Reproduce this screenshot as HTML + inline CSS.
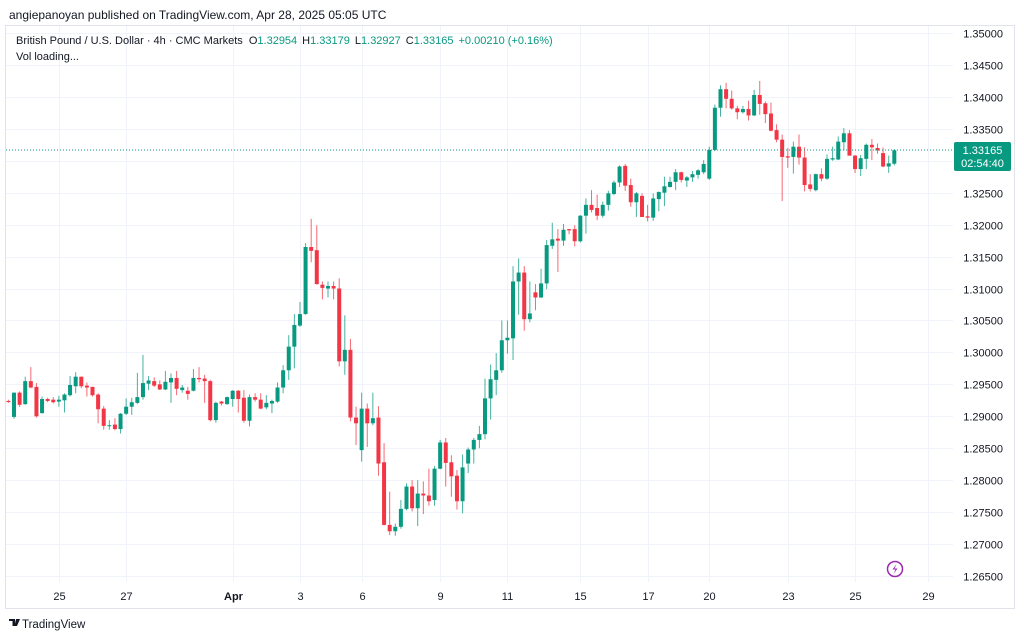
<!DOCTYPE html>
<html><head><meta charset="utf-8"><style>
html,body{margin:0;padding:0;background:#fff;}
svg{display:block;font-family:"Liberation Sans","DejaVu Sans",sans-serif;}
</style></head><body>
<svg id="chart" width="1024" height="641" viewBox="0 0 1024 641">
<rect x="0" y="0" width="1024" height="641" fill="#fff"/>
<text x="9" y="19" font-size="12" fill="#131722">angiepanoyan published on TradingView.com, Apr 28, 2025 05:05 UTC</text>
<rect x="5.5" y="25.5" width="1009" height="583" fill="none" stroke="#e0e3eb"/>
<g id="grid"></g>
<g id="candles"></g>
<line x1="6" x2="953" y1="150" y2="150" stroke="#089981" stroke-dasharray="1,2"/>
<g id="yaxis"></g>
<g id="xaxis"></g>
<rect x="954" y="142" width="57" height="29" rx="2" fill="#089981"/>
<text x="982.5" y="154" font-size="11" fill="#fff" text-anchor="middle">1.33165</text>
<text x="982.5" y="167" font-size="11" fill="#fff" text-anchor="middle">02:54:40</text>
<text x="16" y="44" font-size="11" fill="#131722">British Pound / U.S. Dollar · 4h · CMC Markets <tspan dx="3">O</tspan><tspan fill="#089981">1.32954</tspan><tspan dx="5">H</tspan><tspan fill="#089981">1.33179</tspan><tspan dx="5">L</tspan><tspan fill="#089981">1.32927</tspan><tspan dx="5">C</tspan><tspan fill="#089981">1.33165</tspan><tspan dx="5" fill="#089981">+0.00210 (+0.16%)</tspan></text>
<text x="16" y="60" font-size="11" fill="#131722">Vol loading...</text>
<g><circle cx="895" cy="569" r="7.5" fill="#fff" stroke="#9c27b0" stroke-width="1.5"/><path d="M896.5 564 L892.5 569.5 L895.5 569.5 L893.5 574 L897.5 568.5 L894.5 568.5 Z" fill="#9c27b0"/></g>
<g><path d="M9 619 h6 v7 h-2.5 v-5 h-3.5 Z M16 619 h4 l-3 7 h-2.5 Z" fill="#131722"/><text x="22" y="628" font-size="11.5" fill="#131722">TradingView</text></g>
</svg>
<script>
const opens=[1.2924,1.2899,1.2937,1.2919,1.2955,1.2946,1.2905,1.2927,1.2926,1.2923,1.2925,1.2933,1.2947,1.2962,1.2948,1.2946,1.2934,1.2912,1.2885,1.2887,1.2880,1.2904,1.2915,1.2921,1.2930,1.2951,1.2955,1.2950,1.2942,1.2953,1.2960,1.2941,1.2940,1.2940,1.2960,1.2959,1.2955,1.2894,1.2923,1.2919,1.2927,1.2940,1.2929,1.2893,1.2930,1.2926,1.2914,1.2920,1.2923,1.2945,
1.2972,1.3009,1.3042,1.3060,1.3165,1.3160,1.3106,1.3100,1.3104,1.3100,1.2986,1.3004,1.2898,1.2847,1.2912,1.2889,1.2898,1.2828,1.2730,1.2720,1.2727,1.2755,1.2790,1.2756,1.2779,1.2776,1.2769,1.2818,1.2859,1.2828,1.2807,1.2767,1.2826,1.2848,1.2863,1.2872,
1.2928,1.2957,1.2972,1.3019,1.3022,1.3111,1.3125,1.3052,1.3094,1.3086,1.3108,1.3167,1.3178,1.3175,1.3193,1.3193,1.3174,1.3214,1.3231,1.3226,1.3214,1.3231,1.3248,1.3266,1.3292,1.3262,1.3235,1.3245,1.3213,1.3211,1.3240,1.3250,1.3259,1.3267,1.3282,1.3269,1.3274,1.3278,1.3282,
1.3272,1.3317,1.3383,1.3412,1.3397,1.3382,1.3376,1.3381,1.3371,1.3403,1.3390,1.3374,1.3348,1.3333,1.3307,1.3306,1.3322,1.3305,1.3263,1.3254,1.3279,1.3272,1.3302,1.3302,1.3329,1.3343,1.3308,1.3287,1.3303,1.3325,1.3320,1.3312,1.3291,1.32954];
const highs=[1.2926,1.2937,1.2939,1.2962,1.2977,1.2952,1.2931,1.2929,1.2930,1.2932,1.2936,1.2963,1.2969,1.2962,1.2953,1.2946,1.2936,1.2916,1.2894,1.2897,1.2905,1.2928,1.2929,1.2968,1.2996,1.2963,1.2961,1.2956,1.2971,1.2967,1.2971,1.2949,1.2946,1.2974,1.2977,1.2965,1.2957,1.2923,1.2924,1.2931,1.2941,1.2941,1.2941,1.2934,1.2936,1.2936,1.2933,1.2926,1.2953,1.2980,
1.3027,1.3060,1.3079,1.3171,1.3209,1.3199,1.3111,1.3111,1.3111,1.3116,1.3058,1.3021,1.2915,1.2937,1.2920,1.2937,1.2916,1.2858,1.2782,1.2732,1.2769,1.2795,1.2800,1.2800,1.2798,1.2818,1.2822,1.2863,1.2866,1.2839,1.2816,1.2840,1.2851,1.2866,1.2885,1.2959,
1.2981,1.2999,1.3050,1.3050,1.3135,1.3147,1.3135,1.3111,1.3107,1.3131,1.3176,1.3203,1.3193,1.3201,1.3193,1.3199,1.3215,1.3241,1.3254,1.3247,1.3236,1.3253,1.3269,1.3293,1.3295,1.3272,1.3251,1.3249,1.3231,1.3249,1.3252,1.3275,1.3275,1.3287,1.3283,1.3276,1.3284,1.3287,1.3301,
1.3322,1.3388,1.3418,1.3422,1.3410,1.3386,1.3386,1.3394,1.3411,1.3425,1.3393,1.3391,1.3357,1.3341,1.3320,1.3330,1.3341,1.3321,1.3279,1.3280,1.3288,1.3310,1.3322,1.3338,1.3351,1.3348,1.3309,1.3309,1.3327,1.3334,1.3327,1.3321,1.3308,1.33179];
const lows=[1.2921,1.2896,1.2915,1.2918,1.2944,1.2898,1.2904,1.2922,1.2920,1.2915,1.2906,1.2931,1.2936,1.2944,1.2931,1.2931,1.2889,1.2879,1.2879,1.2878,1.2873,1.2902,1.2902,1.2919,1.2926,1.2941,1.2946,1.2941,1.2941,1.2921,1.2933,1.2937,1.2926,1.2939,1.2953,1.2921,1.2892,1.2890,1.2917,1.2918,1.2915,1.2906,1.2890,1.2884,1.2923,1.2911,1.2911,1.2905,1.2921,1.2936,
1.2957,1.2975,1.3040,1.3059,1.3141,1.3106,1.3083,1.3086,1.3083,1.2978,1.2965,1.2892,1.2855,1.2829,1.2852,1.2886,1.2807,1.2729,1.2714,1.2713,1.2724,1.2753,1.2751,1.2728,1.2747,1.2760,1.2760,1.2817,1.2790,1.2774,1.2754,1.2748,1.2811,1.2826,1.2850,1.2864,
1.2895,1.2933,1.2968,1.2998,1.2988,1.3059,1.3034,1.3047,1.3066,1.3085,1.3099,1.3162,1.3126,1.3167,1.3185,1.3166,1.3172,1.3186,1.3219,1.3207,1.3211,1.3222,1.3246,1.3259,1.3253,1.3228,1.3212,1.3212,1.3205,1.3206,1.3221,1.3229,1.3258,1.3254,1.3266,1.3259,1.3267,1.3272,1.3279,
1.3270,1.3315,1.3369,1.3382,1.3380,1.3365,1.3374,1.3363,1.3370,1.3372,1.3359,1.3346,1.3329,1.3237,1.3289,1.3280,1.3294,1.3252,1.3252,1.3252,1.3268,1.3270,1.3300,1.3301,1.3316,1.3308,1.3281,1.3276,1.3287,1.3301,1.3311,1.3290,1.3281,1.32927];
const closes=[1.2923,1.2937,1.2918,1.2955,1.2945,1.2900,1.2927,1.2924,1.2922,1.2926,1.2934,1.2949,1.2962,1.2947,1.2945,1.2933,1.2911,1.2885,1.2886,1.2880,1.2904,1.2915,1.2922,1.2930,1.2952,1.2956,1.2948,1.2942,1.2954,1.2960,1.2943,1.2945,1.2935,1.2960,1.2958,1.2955,1.2894,1.2921,1.2920,1.2930,1.2940,1.2927,1.2893,1.2930,1.2926,1.2912,1.2921,1.2924,1.2945,1.2972,
1.3009,1.3043,1.3060,1.3165,1.3159,1.3107,1.3101,1.3104,1.3100,1.2986,1.3004,1.2898,1.2889,1.2912,1.2889,1.2897,1.2826,1.2730,1.2720,1.2727,1.2755,1.2790,1.2756,1.2779,1.2776,1.2767,1.2818,1.2859,1.2827,1.2806,1.2767,1.2820,1.2848,1.2863,1.2872,1.2928,
1.2958,1.2972,1.3019,1.3023,1.3111,1.3125,1.3052,1.3061,1.3086,1.3108,1.3168,1.3177,1.3175,1.3192,1.3191,1.3174,1.3214,1.3231,1.3223,1.3214,1.3231,1.3249,1.3266,1.3291,1.3261,1.3235,1.3249,1.3212,1.3211,1.3241,1.3251,1.3260,1.3267,1.3282,1.3270,1.3274,1.3279,1.3285,1.3295,
1.3317,1.3383,1.3412,1.3397,1.3382,1.3376,1.3381,1.3371,1.3403,1.3389,1.3373,1.3347,1.3333,1.3306,1.3305,1.3322,1.3305,1.3262,1.3256,1.3279,1.3272,1.3303,1.3304,1.3330,1.3343,1.3308,1.3287,1.3304,1.3325,1.3321,1.3316,1.3291,1.3296,1.33165];
const priceTicks=[1.35,1.345,1.34,1.335,1.33,1.325,1.32,1.315,1.31,1.305,1.30,1.295,1.29,1.285,1.28,1.275,1.27,1.265];
const dateLabels=["25","27","Apr","3","6","9","11","15","17","20","23","25","29"];
const dateCandleIndex=[9,21,40,52,63,77,89,102,114,125,139,151,164];

const NS="http://www.w3.org/2000/svg";
const yOf=p=>33+(1.35-p)*6388;
const xOf=i=>8.4+i*5.607;
function mk(tag,attrs,parent){const e=document.createElementNS(NS,tag);for(const k in attrs)e.setAttribute(k,attrs[k]);parent.appendChild(e);return e;}
const grid=document.getElementById('grid'),yaxis=document.getElementById('yaxis'),xaxis=document.getElementById('xaxis'),cg=document.getElementById('candles');
priceTicks.forEach(p=>{
  const y=Math.round(yOf(p))+0.5;
  const l=mk('line',{x1:6,x2:953,y1:y,y2:y,stroke:'#f0f3fa'},grid);
  
  
  const t=mk('text',{x:1003,y:y+4,'font-size':11,fill:'#131722','text-anchor':'end'},yaxis);
  t.textContent=p.toFixed(5);
  
  
});
dateLabels.forEach((d,k)=>{
  const x=Math.round(xOf(dateCandleIndex[k]))+0.5;
  const l=mk('line',{x1:x,x2:x,y1:26,y2:582,stroke:'#f0f3fa'},grid);
  
  
  const t=mk('text',{x:x,y:600,'font-size':11,fill:'#131722','text-anchor':'middle','font-weight':d==='Apr'?'bold':'normal'},xaxis);
  t.textContent=d;
  
  
});
for(let i=0;i<opens.length;i++){
  const x=xOf(i);if(x>950)break;
  const up=closes[i]>=opens[i];const col=up?'#089981':'#f23645';
  const g=mk('g',{},cg);
  
  
  mk('line',{x1:x,x2:x,y1:yOf(highs[i]),y2:yOf(lows[i]),stroke:col,'stroke-width':1,opacity:0.75},g);
  const t=Math.min(yOf(opens[i]),yOf(closes[i]));const h=Math.max(1,Math.abs(yOf(opens[i])-yOf(closes[i])));
  mk('rect',{x:x-2,y:t,width:4,height:h,fill:col},g);
}
</script>
</body></html>
